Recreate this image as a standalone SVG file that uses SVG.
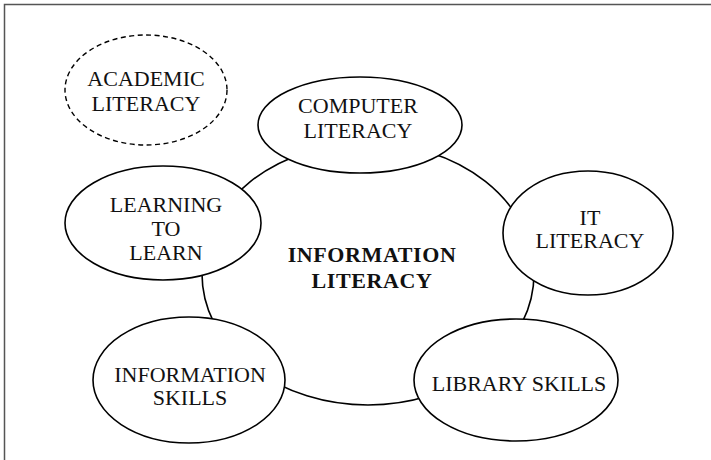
<svg xmlns="http://www.w3.org/2000/svg" width="711" height="460" viewBox="0 0 711 460">
  <style>
    .node { fill: #ffffff; stroke: #000000; stroke-width: 1.6; }
    .dashed { fill: #ffffff; stroke: #000000; stroke-width: 1.4; stroke-dasharray: 5 3.5; }
    .ring { fill: none; stroke: #000000; stroke-width: 1.6; }
    .frame { fill: none; stroke: #555555; stroke-width: 1.5; }
    text { font-family: "Liberation Serif", "Times New Roman", serif; font-size: 22px; fill: #111111; text-anchor: middle; }
    .center { font-weight: bold; letter-spacing: 0.6px; }
  </style>

  <rect width="711" height="460" fill="#ffffff"/>
  <path class="frame" d="M4.5 460 V4.5 H711"/>

  <!-- ring linking the satellite concepts around the centre -->
  <g id="connectors">
    <ellipse class="ring" cx="368" cy="274" rx="166" ry="131"/>
  </g>

  <g id="information-literacy">
    <text class="center" x="372" y="262">INFORMATION</text>
    <text class="center" x="372" y="288">LITERACY</text>
  </g>

  <g id="academic-literacy">
    <ellipse class="dashed" cx="146" cy="90" rx="81" ry="55"/>
    <text x="146" y="86">ACADEMIC</text>
    <text x="146" y="111">LITERACY</text>
  </g>

  <g id="computer-literacy">
    <ellipse class="node" cx="360" cy="125" rx="102" ry="48"/>
    <text x="358" y="113">COMPUTER</text>
    <text x="358" y="138">LITERACY</text>
  </g>

  <g id="learning-to-learn">
    <ellipse class="node" cx="163" cy="223" rx="98" ry="57"/>
    <text x="166" y="212">LEARNING</text>
    <text x="166" y="236">TO</text>
    <text x="166" y="260">LEARN</text>
  </g>

  <g id="it-literacy">
    <ellipse class="node" cx="588" cy="233" rx="85" ry="62"/>
    <text x="590" y="225">IT</text>
    <text x="590" y="248">LITERACY</text>
  </g>

  <g id="information-skills">
    <ellipse class="node" cx="189" cy="380" rx="96" ry="63"/>
    <text x="190" y="382">INFORMATION</text>
    <text x="190" y="405">SKILLS</text>
  </g>

  <g id="library-skills">
    <ellipse class="node" cx="516" cy="380" rx="102" ry="61"/>
    <text x="519" y="391">LIBRARY SKILLS</text>
  </g>
</svg>
